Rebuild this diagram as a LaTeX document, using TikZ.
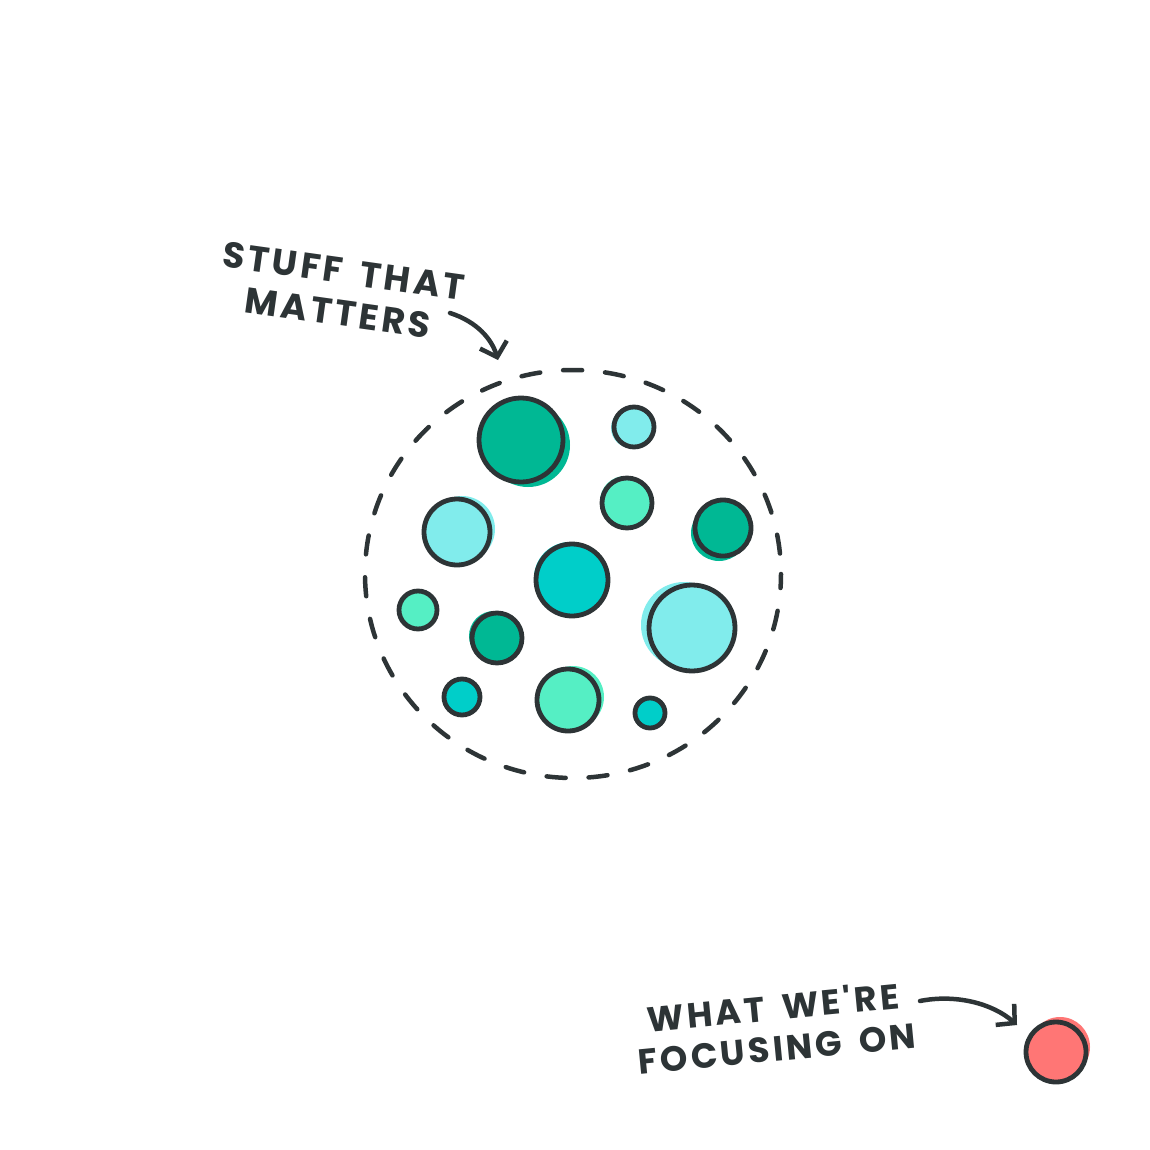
\documentclass[tikz,border=0pt]{standalone}
\usepackage{fontspec}
\newfontfamily\hand{Poppins}[LetterSpace=9, WordSpace=1.6]
\usetikzlibrary{arrows.meta}
\definecolor{ink}{HTML}{2D3436}
\definecolor{dgreen}{HTML}{00B894}
\definecolor{cyanc}{HTML}{00CEC9}
\definecolor{lcyan}{HTML}{81ECEC}
\definecolor{lgreen}{HTML}{55EFC4}
\definecolor{redc}{HTML}{FF7675}
\tikzset{
  outl/.style={draw=ink, line width=4.8pt},
  lbl/.style={font=\hand\bfseries\fontsize{36}{42}\selectfont, text=ink, align=center, inner sep=0pt},
  pointer/.style={draw=ink, line width=4.5pt, line cap=round, line join=round,
    -{Straight Barb[length=13pt,width=28pt,line width=4.5pt]}},
}
\newcommand{\blob}[7]{%
  \fill[#5] (#2+#6,#3+#7) circle (#4);
  \node[circle, outl, fill=#5, minimum size=2*#4 pt, inner sep=0pt] (#1) at (#2,#3) {};
}
\begin{document}
\begin{tikzpicture}[x=1pt,y=-1pt]
\useasboundingbox (0,0) rectangle (1150,1150);
\fill[white] (0,0) rectangle (1150,1150);
% dashed boundary
\draw[draw=ink, line width=4.5pt, line cap=round, dash pattern=on 19pt off 23pt, dash phase=5pt] (573,574) ellipse (208 and 204);
\coordinate (bound) at (498,360);
% circles
\blob{c1}{521}{440}{42}{dgreen}{7}{5}
\blob{c2}{634}{427}{20}{lcyan}{-3}{1}
\blob{c3}{627}{503}{25}{lgreen}{-2}{-2}
\blob{c4}{723}{528}{28}{dgreen}{-4}{5}
\blob{c5}{457}{532}{33}{lcyan}{5}{-3}
\blob{c6}{572}{580}{36}{cyanc}{-2}{-2}
\blob{c7}{418}{610}{19}{lgreen}{0}{0}
\blob{c8}{497}{638}{25}{dgreen}{-3}{-2}
\blob{c9}{692}{628}{43}{lcyan}{-8}{-3}
\blob{c10}{462}{697}{18}{cyanc}{-1}{-1}
\blob{c11}{568}{700}{31}{lgreen}{5}{-3}
\blob{c12}{650}{713}{15}{cyanc}{0}{-2}
% focus circle
\blob{focus}{1056}{1052}{30}{redc}{4}{-5}
% labels
\node[lbl, rotate=-8] (lab1) at (341,292) {STUFF THAT\\MATTERS};
\node[lbl, rotate=5.5, font=\hand\bfseries\fontsize{35}{41}\selectfont] (lab2) at (775,1027) {WHAT WE'RE\\FOCUSING ON};
\coordinate (s1) at (450,313);
\coordinate (s2) at (920,1001);
\coordinate (t2) at (1017,1025);
\draw[pointer] (s1) .. controls (478,322) and (492,340) .. (bound);
\draw[pointer] (s2) .. controls (955,994) and (992,1003) .. (t2);
\end{tikzpicture}
\end{document}
